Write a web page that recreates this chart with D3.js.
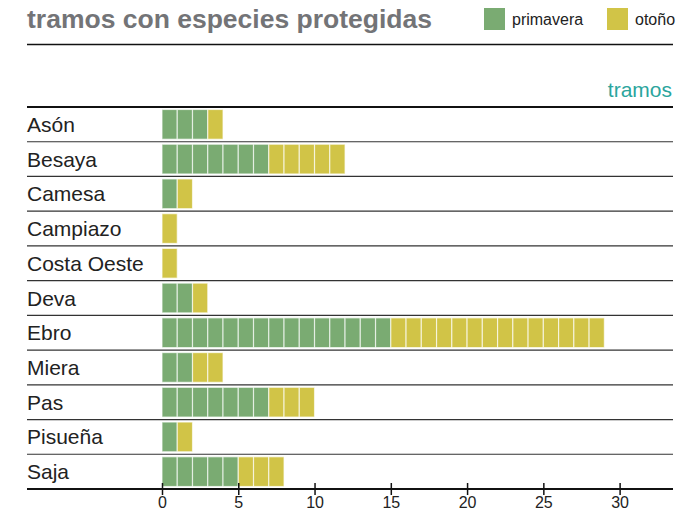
<!DOCTYPE html>
<html lang="es">
<head>
<meta charset="UTF-8">
<script src="https://d3js.org/d3.v7.min.js"></script>
<style>
  body { margin: 0; background: #fff; }
  text { font-family: "Liberation Sans", Arial, sans-serif; }
</style>
</head>
<body>
<div id="chart"></div>
<script>
// datos: tramos con especies protegidas por río
var rios = ["Asón", "Besaya", "Camesa", "Campiazo", "Costa Oeste", "Deva", "Ebro", "Miera", "Pas", "Pisueña", "Saja"];
var primavera = [3, 7, 1, 0, 0, 2, 15, 2, 7, 1, 5];
var otono = [1, 5, 1, 1, 1, 1, 14, 2, 3, 1, 3];
var tickValues = [0, 5, 10, 15, 20, 25, 30];
var series = ["primavera", "otoño"];
var colores = ["#7aab72", "#d1c447"];

var width = 695, height = 510;
var xLeft = 27, xRight = 673, yTop = 107, yBottom = 489;

var svg = d3.select("#chart").append("svg")
    .attr("width", width)
    .attr("height", height);

var x = d3.scaleLinear().domain([0, 33.5]).range([162, xRight]);
var y = d3.scaleBand().domain(rios).range([yTop, yBottom]);
var color = d3.scaleOrdinal().domain(series).range(colores);

// titulo
svg.append("text")
    .attr("x", xLeft)
    .attr("y", 28)
    .style("font-size", "26.5px")
    .style("font-weight", "bold")
    .style("fill", "#737477")
    .text("tramos con especies protegidas");

svg.append("line")
    .attr("x1", xLeft).attr("x2", xRight)
    .attr("y1", 44.5).attr("y2", 44.5)
    .style("stroke", "#111").style("stroke-width", 1.5);

// leyenda
var legX = [484, 607];
var leg = svg.selectAll(".leg")
    .data(series)
    .enter().append("g")
    .attr("transform", function(d, i) { return "translate(" + legX[i] + ",8)"; });
leg.append("rect")
    .attr("width", 21).attr("height", 22)
    .style("fill", function(d) { return color(d); });
leg.append("text")
    .attr("x", 28).attr("y", 17)
    .style("font-size", "16px")
    .style("fill", "#222")
    .text(function(d) { return d; });

// unidad
svg.append("text")
    .attr("x", xRight - 1)
    .attr("y", 97)
    .attr("text-anchor", "end")
    .style("font-size", "21px")
    .style("fill", "#2ba59d")
    .text("tramos");

// celdas, una por tramo
var cells = [];
rios.forEach(function(r, k) {
  for (var i = 0; i < primavera[k]; i++) cells.push({rio: r, pos: i, serie: "primavera"});
  for (var j = 0; j < otono[k]; j++) cells.push({rio: r, pos: primavera[k] + j, serie: "otoño"});
});

svg.selectAll(".cell")
    .data(cells)
    .enter().append("rect")
    .attr("class", "cell")
    .attr("x", function(d) { return x(d.pos); })
    .attr("y", function(d) { return y(d.rio) + 2.5; })
    .attr("width", function(d) { return x(d.pos + 1) - x(d.pos); })
    .attr("height", y.bandwidth() - 5)
    .style("fill", function(d) { return color(d.serie); })
    .style("stroke", "#fff")
    .style("stroke-width", 1.2)
    .style("stroke-opacity", 0.65);

// separadores de filas
svg.selectAll(".sep")
    .data(rios.slice(1))
    .enter().append("line")
    .attr("x1", xLeft).attr("x2", xRight)
    .attr("y1", function(d) { return y(d); })
    .attr("y2", function(d) { return y(d); })
    .style("stroke", "#333")
    .style("stroke-width", 1.2);

svg.append("line")
    .attr("x1", xLeft).attr("x2", xRight)
    .attr("y1", yTop).attr("y2", yTop)
    .style("stroke", "#111").style("stroke-width", 2);

// etiquetas de fila
svg.selectAll(".lab")
    .data(rios)
    .enter().append("text")
    .attr("x", xLeft)
    .attr("y", function(d) { return y(d) + y.bandwidth() / 2 + 7.5; })
    .style("font-size", "21px")
    .style("fill", "#222")
    .text(function(d) { return d; });

// eje x
var axis = svg.append("g")
    .attr("transform", "translate(0," + yBottom + ")")
    .call(d3.axisBottom(x).tickValues(tickValues).tickSize(6));
axis.select(".domain").remove();
axis.selectAll(".tick line")
    .attr("y1", -6).attr("y2", 6)
    .style("stroke", "#111").style("stroke-width", 1.5);
axis.selectAll(".tick text")
    .attr("y", 8).attr("dy", "0.71em")
    .style("font-size", "16px")
    .style("font-family", "'Liberation Sans', Arial, sans-serif")
    .style("fill", "#222");

svg.append("line")
    .attr("x1", xLeft).attr("x2", xRight)
    .attr("y1", yBottom).attr("y2", yBottom)
    .style("stroke", "#111").style("stroke-width", 2);
</script>
</body>
</html>
